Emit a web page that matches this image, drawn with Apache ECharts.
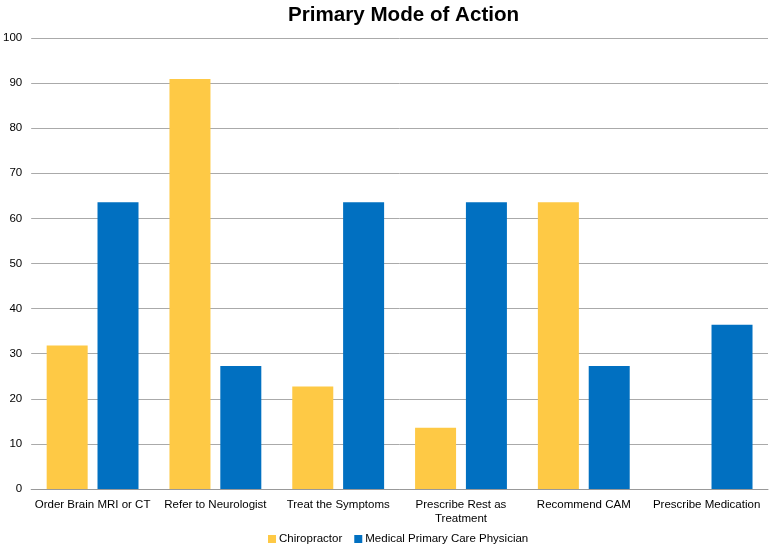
<!DOCTYPE html>
<html><head><meta charset="utf-8">
<script src="https://cdn.jsdelivr.net/npm/echarts@6/dist/echarts.min.js"></script>
<style>html,body{margin:0;padding:0;background:#fff}#c{width:771px;height:552px}</style>
</head><body><div id="c"></div>
<script>
const categories = ['Order Brain MRI or CT','Refer to Neurologist','Treat the Symptoms','Prescribe Rest as\nTreatment','Recommend CAM','Prescribe Medication'];
const chiropractor = [31.8, 90.9, 22.7, 13.6, 63.6, 0];
const physician = [63.6, 27.3, 63.6, 63.6, 27.3, 36.4];
const seriesNames = ['Chiropractor','Medical Primary Care Physician'];
const chart = echarts.init(document.getElementById('c'));
const font = 'Liberation Sans, Arial, Helvetica, sans-serif';
chart.setOption({
  animation:false,
  title:{text:'Primary Mode of Action',left:283,top:0,textStyle:{fontFamily:font,fontSize:20.6,fontWeight:'bold',color:'#000'}},
  legend:{bottom:2,left:263,itemWidth:8,itemHeight:8,itemGap:12,icon:'rect',textStyle:{fontFamily:font,fontSize:11.5,color:'#000',padding:[0,0,0,-2]},data:seriesNames},
  grid:{left:30,right:3,top:38,bottom:63},
  xAxis:{type:'category',data:categories,axisLine:{lineStyle:{color:'#999',width:1}},axisTick:{show:false},
    axisLabel:{fontFamily:font,fontSize:11.5,color:'#000',margin:9,interval:0,lineHeight:14}},
  yAxis:{type:'value',min:0,max:100,interval:10,axisLine:{show:false},axisTick:{show:false},
    splitLine:{lineStyle:{color:'#aaa',width:1}},axisLabel:{fontFamily:font,fontSize:11.5,color:'#000',margin:9}},
  series:[
    {name:seriesNames[0],type:'bar',data:chiropractor,itemStyle:{color:'#FEC945'},barWidth:41,barGap:'24%'},
    {name:seriesNames[1],type:'bar',data:physician,itemStyle:{color:'#0170C1'},barWidth:41}
  ]
});
</script></body></html>
